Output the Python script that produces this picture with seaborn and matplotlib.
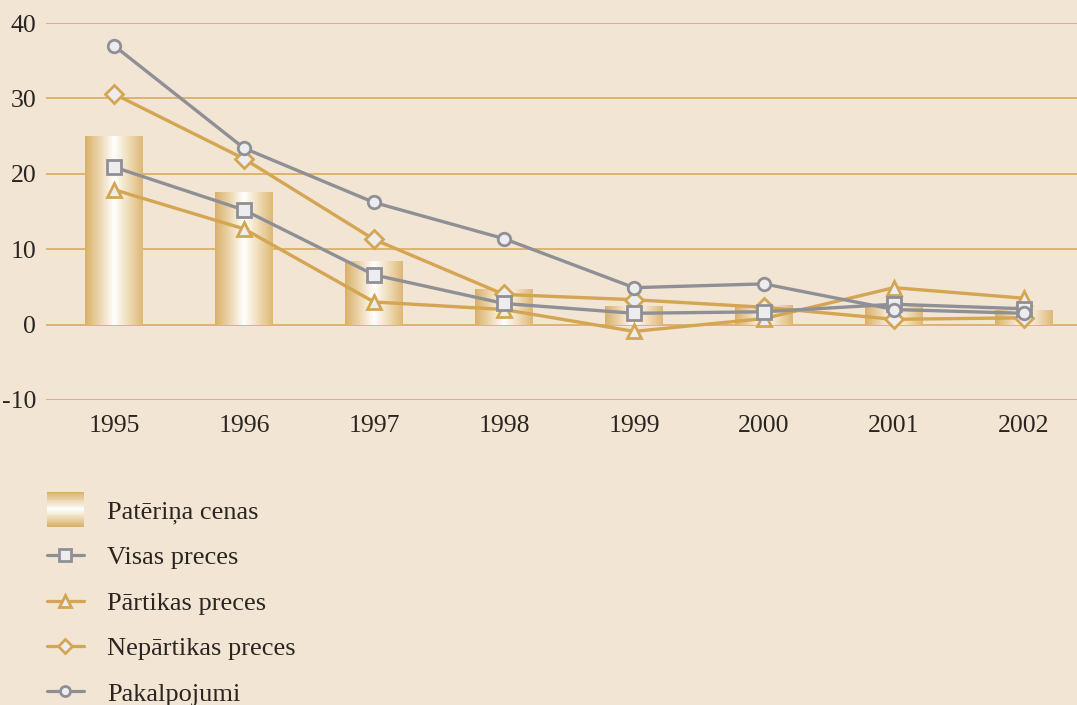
import numpy as np
import pandas as pd
import matplotlib
matplotlib.use("Agg")
import matplotlib.pyplot as plt
import seaborn as sns
from matplotlib.colors import LinearSegmentedColormap, to_rgb
from matplotlib.legend_handler import HandlerBase
from matplotlib.patches import Rectangle
from matplotlib.lines import Line2D

# --- Data ---
years = ["1995", "1996", "1997", "1998", "1999", "2000", "2001", "2002"]
paterina_cenas = [25.0, 17.6, 8.4, 4.7, 2.4, 2.6, 2.5, 1.9]
visas_preces = [20.9, 15.2, 6.6, 2.8, 1.5, 1.7, 2.7, 2.1]
partikas_preces = [17.9, 12.7, 3.0, 2.0, -0.9, 0.8, 4.9, 3.5]
nepartikas_preces = [30.6, 22.0, 11.3, 4.0, 3.3, 2.3, 0.7, 0.9]
pakalpojumi = [37.0, 23.4, 16.2, 11.4, 4.9, 5.4, 2.0, 1.5]

BG = "#F2E5D3"
GOLD = "#D4A552"
GRID = "#D8AD5E"
GRAY = "#8F9095"
FACE = "#EDEDF0"
TEXT = "#2B2522"

sns.set_theme(style="white")
plt.rcParams["font.family"] = ["Liberation Serif", "DejaVu Serif"]
plt.rcParams["text.color"] = TEXT
plt.rcParams["axes.unicode_minus"] = False

fig = plt.figure(figsize=(10.77, 7.05), dpi=100, facecolor=BG)
ax = fig.add_axes([46 / 1077, 1 - 400 / 705, 1 - 46 / 1077, (400 - 23) / 705])
ax.set_facecolor(BG)

df_bars = pd.DataFrame({"year": years, "value": paterina_cenas})
sns.barplot(data=df_bars, x="year", y="value", color=GOLD, width=0.446,
            ax=ax, zorder=2)

# horizontal gold-white-gold gradient inside each bar
bar_cmap = LinearSegmentedColormap.from_list(
    "bar", ["#D9B06A", "#ECD6AC", "#FFFFFF", "#EFDCB8", "#DDB876"])
grad = np.linspace(0, 1, 256).reshape(1, -1)
for p in ax.patches:
    x0, y0 = p.get_x(), p.get_y()
    w, h = p.get_width(), p.get_height()
    p.set_facecolor("none")
    p.set_edgecolor("none")
    ax.imshow(grad, cmap=bar_cmap, aspect="auto", zorder=2,
              extent=[x0, x0 + w, y0, y0 + h], interpolation="bicubic")

idx = np.arange(len(years))
series = [
    ("Pārtikas preces", partikas_preces, GOLD, "^", 10),
    ("Nepārtikas preces", nepartikas_preces, GOLD, "D", 9),
    ("Visas preces", visas_preces, GRAY, "s", 10),
    ("Pakalpojumi", pakalpojumi, GRAY, "o", 9),
]
for name, vals, col, mk, ms in series:
    sns.lineplot(x=idx, y=vals, color=col, marker=mk, markersize=ms,
                 markerfacecolor=FACE, markeredgecolor=col, markeredgewidth=2,
                 linewidth=2.4, ax=ax, zorder=3)

ax.set_xlim(-0.523, 7.408)
ax.set_ylim(-10, 40)
ax.set_yticks([-10, 0, 10, 20, 30, 40])
ax.set_xticks(idx)
ax.set_xticklabels(years)
ax.set_xlabel("")
ax.set_ylabel("")
ax.yaxis.grid(True, color=GRID, linewidth=1.2, zorder=0)
ax.set_axisbelow(True)
for s in ax.spines.values():
    s.set_visible(False)
ax.tick_params(axis="both", length=0, labelsize=18.5, labelcolor=TEXT)
ax.tick_params(axis="x", pad=11)
ax.tick_params(axis="y", pad=7)


class GradientHandler(HandlerBase):
    def create_artists(self, legend, orig_handle, xdescent, ydescent,
                       width, height, fontsize, trans):
        n = 40
        c_gold = np.array(to_rgb("#D9B06A"))
        c_white = np.ones(3)
        hh = height * 1.9
        y_start = -ydescent - (hh - height) / 2
        arts = []
        for i in range(n):
            t = i / (n - 1)
            k = 1 - abs(2 * t - 1)
            c = c_gold * (1 - k) + c_white * k
            arts.append(Rectangle((-xdescent, y_start + i * hh / n), width,
                                  hh / n * 1.05, facecolor=c, edgecolor="none",
                                  transform=trans))
        return arts


bar_handle = Rectangle((0, 0), 1, 1)
handles = [bar_handle]
labels = ["Patēriņa cenas"]
legend_order = [series[2], series[0], series[1], series[3]]
for name, vals, col, mk, ms in legend_order:
    handles.append(Line2D([], [], color=col, marker=mk, markersize=ms * 0.8,
                          markerfacecolor=FACE, markeredgecolor=col,
                          markeredgewidth=2, linewidth=2.3))
    labels.append(name)

fig.legend(handles, labels, loc="upper left",
           bbox_to_anchor=(47 / 1077, 1 - 500 / 705),
           frameon=False, fontsize=19, handlelength=1.4, handletextpad=0.87,
           labelspacing=0.83, borderaxespad=0, borderpad=0,
           handler_map={Rectangle: GradientHandler()})

fig.savefig("out.png", dpi=100, facecolor=BG)
